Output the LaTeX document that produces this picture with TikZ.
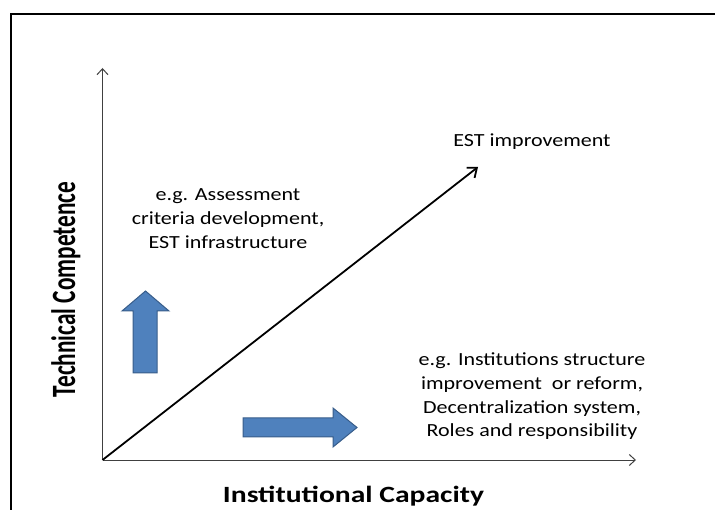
\documentclass[tikz,border=0pt]{standalone}
\usepackage{fontspec}
\setmainfont{Carlito}
\usepackage{tikz}
\usetikzlibrary{arrows.meta}

\definecolor{arrowfill}{HTML}{4F81BD}
\definecolor{arrowline}{HTML}{385D8A}

\begin{document}
\begin{tikzpicture}[x=1pt, y=1pt,
  axis/.style={draw=black!75, line width=1pt, -{Straight Barb[length=6pt, width=11pt]}},
  trend/.style={draw=black, line width=1.8pt, -{Straight Barb[length=8pt, width=13pt]}},
  blockarrow/.style={fill=arrowfill, draw=arrowline, line width=1pt},
  note/.style={font=\fontsize{18.5}{24}\selectfont, align=center, xscale=1.19, anchor=base},
  axislabel/.style={font=\fontsize{23.3}{28}\selectfont\bfseries, anchor=base}
]
\useasboundingbox (0,0) rectangle (715,509);

% outer frame (right and bottom sides fall off the page)
\draw[line width=2.2pt] (11,-20) rectangle (740,495);

% axes and trend line
\coordinate (origin) at (102.5,49);
\coordinate (ytip) at (102.5,441);
\coordinate (xtip) at (636,49);
\coordinate (esttip) at (478,342);

\draw[axis] (origin) -- (ytip);
\draw[axis] (origin) -- (xtip);
\draw[trend] (origin) -- (esttip);

% axis labels
\node[axislabel, xscale=1.27] (xlabel) at (353.5,7) {Institutional Capacity};
\node[axislabel, xscale=1.46, rotate=90] (ylabel) at (75,219.5) {Technical Competence};

% notes (base sits on the last line)
\node[note] (estlabel) at (532,362) {EST improvement};
\node[note] (technote) at (228,260) {e.g. Assessment\\criteria development,\\EST infrastructure};
\node[note] (instnote) at (532,72) {e.g. Institutions structure\\improvement~ or reform,\\Decentralization system,\\Roles and responsibility};

% block arrows
\filldraw[blockarrow] (133,136) -- (157,136) -- (157,198) -- (169,198) -- (145.5,218) -- (122,198) -- (133,198) -- cycle;
\filldraw[blockarrow] (243,72) -- (333,72) -- (333,62) -- (357,81.5) -- (333,101) -- (333,91) -- (243,91) -- cycle;

\end{tikzpicture}
\end{document}
